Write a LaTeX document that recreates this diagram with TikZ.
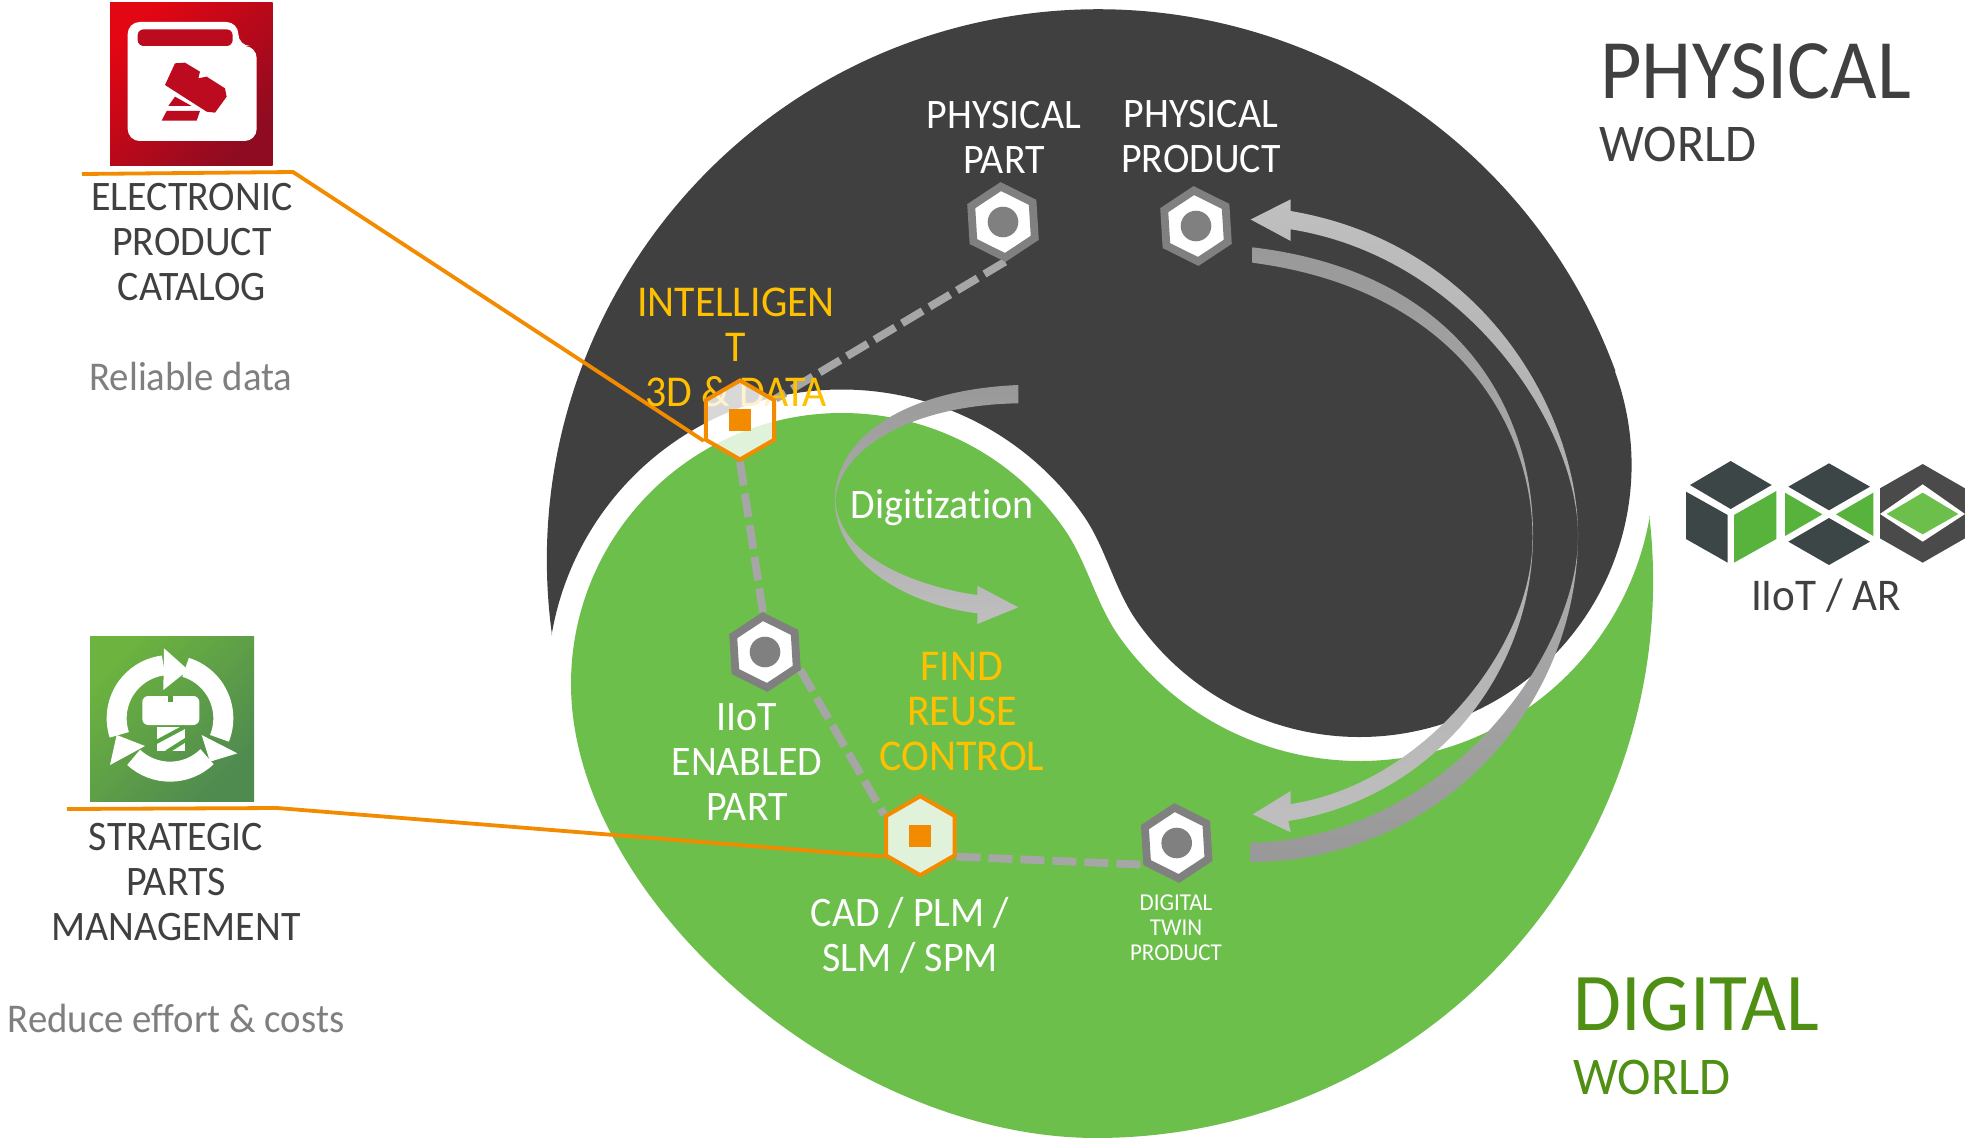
\documentclass[tikz,border=0pt]{standalone}
\usepackage{fontspec}
\setmainfont{Carlito}[FakeStretch=0.95,Ligatures=CommonOff]
\usetikzlibrary{shapes.geometric}
\definecolor{darkworld}{HTML}{404040}
\definecolor{greenworld}{HTML}{6DBF4B}
\definecolor{nutgray}{HTML}{808080}
\definecolor{dashgray}{HTML}{A6A6A6}
\definecolor{amber}{HTML}{FFC000}
\definecolor{orangeline}{HTML}{F38B00}
\definecolor{graytext}{HTML}{7F7F7F}
\definecolor{darkgreentext}{HTML}{4E8F14}
\definecolor{arrowlight}{HTML}{BFBFBF}
\definecolor{arrowdark}{HTML}{999999}
\definecolor{arrowmid}{HTML}{AEAEAE}
\definecolor{icondark}{HTML}{3C4646}
\definecolor{icongreen}{HTML}{57B33B}
\definecolor{hexdark}{HTML}{4A4A4A}
\definecolor{redtl}{RGB}{227,6,19}
\definecolor{redbr}{RGB}{142,11,33}
\definecolor{redin}{RGB}{188,10,30}
\definecolor{gicotl}{RGB}{108,179,63}
\definecolor{gicobr}{RGB}{79,138,79}
\definecolor{gicoin}{RGB}{85,160,65}
\pgfdeclarelayer{bg}\pgfdeclarelayer{conn}\pgfdeclarelayer{txt}
\pgfsetlayers{bg,conn,txt,main}
\tikzset{
  nut/.style={regular polygon,regular polygon sides=6,regular polygon rotate=33.5,
    minimum size=35.5pt,inner sep=0pt,draw=nutgray,line width=3.9pt,fill=white,
    path picture={\fill[nutgray] (path picture bounding box.center) circle[radius=15.3];}},
  orangehex/.style={regular polygon,regular polygon sides=6,regular polygon rotate=30,
    minimum size=39.5pt,inner sep=0pt,draw=orangeline,line width=2pt,fill=white,fill opacity=0.8,draw opacity=1},
  orangesq/.style={rectangle,fill=orangeline,minimum size=11pt,inner sep=0pt},
  dashline/.style={draw=dashgray,line width=3.9pt,dash pattern=on 12pt off 4pt},
  leader/.style={draw=orangeline,line width=1.9pt},
  lab/.style={align=center,inner sep=0pt,font=\fontsize{21}{22.5}\selectfont},
  graylab/.style={align=center,inner sep=0pt,text=graytext,font=\fontsize{20.4}{22.5}\selectfont},
  amberlab/.style={align=center,inner sep=0pt,text=amber,font=\fontsize{22}{22.5}\selectfont},
  smalllab/.style={align=center,inner sep=0pt,font=\fontsize{12.1}{12.6}\selectfont},
  bigword/.style={anchor=west,inner sep=0pt},
  subword/.style={anchor=west,inner sep=0pt,font=\fontsize{26.5}{27}\selectfont},
}
\begin{document}
\begin{tikzpicture}[x=0.5pt,y=-0.5pt]
\useasboundingbox (0,0) rectangle (1965,1140);
\begin{pgfonlayer}{bg}
\fill[white] (0,0) rectangle (1965,1140);
% dark world
\fill[darkworld] (552,635) arc[start angle=172.2,end angle=339.94,radius=551]
  -- (1615,371.7) arc[start angle=-20.06,end angle=145.07,radius=272]
  .. controls (1114.2,588.7) and (1105.7,547.4) .. (1083.4,515.4)
  arc[start angle=-34.93,end angle=-170.41,radius=294.5] -- cycle;
% green world
\fill[greenworld] (1649.3,516) arc[start angle=-6.7,end angle=90,radius=557]
  .. controls (845,1138) and (571,900) .. (571,684)
  arc[start angle=180,end angle=325.07,radius=271]
  .. controls (1086.5,560.8) and (1095.8,603.1) .. (1118.1,635.1)
  arc[start angle=145.07,end angle=9.69,radius=294.5] -- cycle;
% outer return arrow
\shade[top color=arrowlight,middle color=arrowmid,bottom color=arrowdark]
  (1250,862) arc[start angle=90,end angle=0,radius=328]
  .. controls (1578,420) and (1490,245) .. (1290.7,211)
  -- (1290.7,199.3) -- (1250.7,219.5) -- (1290.7,241) -- (1290.7,229.3)
  .. controls (1470,258) and (1579,430) .. (1578,537)
  .. controls (1578,650) and (1450,838) .. (1250,842.7) -- cycle;
% inner return arrow
\shade[top color=arrowdark,middle color=arrowmid,bottom color=arrowlight]
  (1252.3,247.3) .. controls (1460,272) and (1533,410) .. (1533,535)
  arc[start angle=0,end angle=81.1,radius=289.5]
  -- (1290.7,832.3) -- (1252.7,814.3) -- (1290.7,791) -- (1290.7,804)
  .. controls (1420,785) and (1533,650) .. (1532.5,538)
  .. controls (1533,430) and (1460,290) .. (1252.3,262.7) -- cycle;
% digitization arrow
\shade[top color=arrowdark,bottom color=arrowlight]
  (1018.3,385) .. controls (900,390) and (835,440) .. (835,500)
  .. controls (835,565) and (910,605) .. (977.3,613.3)
  -- (977.3,624) -- (1018.3,607.3) -- (977.3,585.7) -- (977.3,595)
  .. controls (925,588) and (838,560) .. (835.5,500)
  .. controls (838,450) and (910,405) .. (1018.3,403.3) -- cycle;
% red icon
\shade[top color=redtl,bottom color=redbr,shading angle=45]
  (110,2) rectangle (272.7,165);
\begin{scope}[shift={(60,0)},scale=1/3]
\fill[white,rounded corners=6pt] (203,66) -- (535,66) -- (535,138) -- (590,138) -- (590,423) -- (203,423) -- cycle;
\fill[redin,rounded corners=3pt] (233,88) -- (518,88) -- (518,138) -- (233,138) -- cycle;
\fill[redin] (345,190) -- (375,188) -- (420,215) -- (415,235) -- (440,230) -- (495,265) -- (500,290) -- (465,338) -- (440,335) -- (315,255) -- cycle;
\fill[redin] (345,290) -- (395,318) -- (325,318) -- cycle;
\fill[redin] (320,333) -- (420,333) -- (410,362) -- (305,362) -- cycle;
\end{scope}
% green icon
\shade[top color=gicotl,bottom color=gicobr,shading angle=45]
  (90,636.7) rectangle (254,801);
\begin{scope}[shift={(60,620)},scale=1/3]
\draw[white,line width=10pt] (330,295) ++(162:160) arc[start angle=162,end angle=263,radius=160];
\fill[white] (312,85) -- (385,150) -- (310,210) -- cycle;
\draw[white,line width=10pt] (330,295) ++(-73:160) arc[start angle=-73,end angle=22,radius=160];
\fill[white] (425,345) -- (532,400) -- (450,425) -- cycle;
\draw[white,line width=10pt] (330,295) ++(46:160) arc[start angle=46,end angle=133,radius=160];
\fill[white] (170,345) -- (150,435) -- (255,378) -- cycle;
\fill[white,rounded corners=3pt] (247,228) rectangle (418,315);
\fill[gicoin] (325,228) rectangle (338,246);
\fill[white] (290,320) rectangle (375,392);
\draw[gicoin,line width=2pt] (285,368) -- (375,320);
\draw[gicoin,line width=2pt] (320,396) -- (380,358);
\end{scope}
% IIoT icon
\begin{scope}[shift={(1660,440)},scale=1/3]
\fill[icondark] (212,63) -- (335,135) -- (212,207) -- (90,135) -- cycle;
\fill[icondark] (78,155) -- (203,225) -- (203,368) -- (78,297) -- cycle;
\fill[icongreen] (222,225) -- (349,153) -- (349,297) -- (222,368) -- cycle;
\fill[icondark] (507,70) -- (630,140) -- (507,211) -- (385,140) -- cycle;
\fill[icondark] (507,234) -- (630,305) -- (507,375) -- (385,305) -- cycle;
\fill[icongreen] (375,158) -- (487,223) -- (375,288) -- cycle;
\fill[icongreen] (640,158) -- (528,223) -- (640,288) -- cycle;
\fill[hexdark] (788,72) -- (915,145) -- (915,295) -- (788,368) -- (660,295) -- (660,145) -- cycle;
\fill[white] (788,133) -- (915,222) -- (788,305) -- (660,222) -- cycle;
\fill[greenworld] (788,158) -- (895,222) -- (788,283) -- (680,222) -- cycle;
\end{scope}
\end{pgfonlayer}

% hexagon nodes
\node[nut] (pp) at (1003,222) {};
\node[nut] (pr) at (1196,226) {};
\node[nut] (io) at (765,652) {};
\node[nut] (tw) at (1176.7,843) {};
\node[orangehex] (ohexa) at (740,420) {};
\node[orangesq] (osqa) at (740,420) {};
\node[orangehex] (ohexb) at (920.3,835.7) {};
\node[orangesq] (osqb) at (920.3,835.7) {};

% connectors
\coordinate (la) at (82,174);
\coordinate (lb) at (293,172);
\coordinate (lc) at (67,809);
\coordinate (ld) at (277,808);
\begin{pgfonlayer}{conn}
\draw[dashline] (pp.-87) -- (ohexa);
\draw[dashline] (ohexa.-90) -- (io.93);
\draw[dashline] (io.-27) -- (ohexb.150);
\draw[dashline] (ohexb.-30) -- (tw.213);
\draw[leader] (la) -- (lb) -- (ohexa.210);
\draw[leader] (lc) -- (ld) -- (ohexb.210);
\end{pgfonlayer}

% labels
\begin{pgfonlayer}{txt}
\node[lab,text=white] (t1) at (1004,137) {PHYSICAL\\PART};
\node[lab,text=white] (t2) at (1201,137) {PHYSICAL\\PRODUCT};
\node[amberlab] (t3) at (736,347) {INTELLIGEN\\T\\3D \& DATA};
\node[lab,text=darkworld] (t4) at (192,242) {ELECTRONIC\\PRODUCT\\CATALOG};
\node[graylab] (t5) at (191,376) {Reliable data};
\node[lab,text=darkworld] (t6) at (176,882) {STRATEGIC\\PARTS\\MANAGEMENT};
\node[graylab] (t7) at (176,1018) {Reduce effort \& costs};
\node[lab,text=white] (t8) at (747,762) {IIoT\\ENABLED\\PART};
\node[lab,text=white] (t9) at (942,508) {Digitization};
\node[amberlab] (t10) at (962,712) {FIND\\REUSE\\CONTROL};
\node[lab,text=white] (t11) at (910,935) {CAD / PLM /\\SLM / SPM};
\node[smalllab,text=white] (t12) at (1176,928) {DIGITAL\\TWIN\\PRODUCT};
\node[lab,text=darkworld,font=\fontsize{22.7}{24}\selectfont] (t13) at (1826,596) {IIoT / AR};
\node[bigword,text=darkworld,font=\fontsize{42.3}{44}\selectfont] (t14) at (1600,71) {PHYSICAL};
\node[subword,text=darkworld] (t15) at (1599,144) {WORLD};
\node[bigword,text=darkgreentext,font=\fontsize{41}{44}\selectfont] (t16) at (1573,1004) {DIGITAL};
\node[subword,text=darkgreentext] (t17) at (1573,1077) {WORLD};
\end{pgfonlayer}
\end{tikzpicture}
\end{document}
